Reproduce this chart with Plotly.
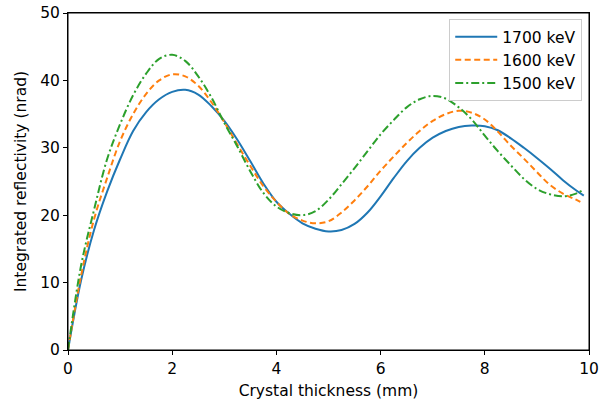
import plotly.graph_objects as go

# crystal thickness (mm)
thickness = [0, 0.25, 0.5, 0.75, 1.0, 1.25, 1.5, 1.75, 2.0, 2.25, 2.5, 2.75, 3.0, 3.25, 3.5, 3.75,
             4.0, 4.25, 4.5, 4.75, 5.0, 5.25, 5.5, 5.75, 6.0, 6.25, 6.5, 6.75, 7.0, 7.25, 7.5, 7.75,
             8.0, 8.25, 8.5, 8.75, 9.0, 9.25, 9.5, 9.75, 9.9]

# integrated reflectivity (nrad)
refl_1700 = [0, 10.3, 17.8, 23.5, 28.3, 32.5, 35.3, 37.2, 38.3, 38.6, 37.9, 36.2, 34.0, 31.2, 28.0, 24.7,
             22.0, 20.2, 18.8, 18.0, 17.6, 17.8, 18.7, 20.4, 22.8, 25.5, 28.0, 30.0, 31.5, 32.5, 33.1, 33.3,
             33.2, 32.6, 31.4, 30.0, 28.5, 26.9, 25.2, 23.7, 22.9]
refl_1600 = [0, 11.0, 19.4, 25.5, 31.0, 35.0, 38.0, 40.0, 40.9, 40.6, 39.2, 36.8, 33.8, 30.5, 27.3, 24.3,
             22.0, 20.2, 19.2, 18.8, 19.1, 20.4, 22.2, 24.3, 26.6, 28.7, 30.7, 32.5, 34.0, 35.0, 35.5, 35.2,
             34.2, 32.4, 30.3, 28.4, 26.4, 24.5, 23.2, 22.3, 21.7]
refl_1500 = [0, 12.5, 20.8, 28.3, 33.5, 37.8, 41.0, 43.2, 43.8, 42.9, 40.6, 37.5, 33.7, 30.2, 26.5, 23.3,
             21.3, 20.3, 20.0, 20.6, 22.3, 24.6, 27.0, 29.5, 32.0, 34.1, 36.0, 37.2, 37.7, 37.3, 36.0, 34.2,
             31.8, 29.5, 27.4, 25.4, 23.9, 23.1, 22.8, 23.2, 23.8]

series = [
    ("1700 keV", refl_1700, "#1f77b4", "solid"),
    ("1600 keV", refl_1600, "#ff7f0e", "6px,3.5px"),
    ("1500 keV", refl_1500, "#2ca02c", "8px,3px,2px,3px"),
]

FS = 15.5

fig = go.Figure()
for name, vals, color, dash in series:
    fig.add_trace(go.Scatter(x=thickness, y=vals, mode="lines", name=name,
                             line=dict(color=color, width=2, dash=dash, shape="spline", smoothing=1.0)))

axis_style = dict(showline=True, linecolor="black", linewidth=1, mirror="allticks",
                  ticks="outside", ticklen=4, tickcolor="black", showgrid=False, zeroline=False,
                  tickfont=dict(size=FS, color="black"))

fig.update_xaxes(range=[0, 10], tickvals=[0, 2, 4, 6, 8, 10], automargin=False,
                 title=dict(text="Crystal thickness (mm)", font=dict(size=FS, color="black")),
                 **axis_style)
fig.update_yaxes(range=[0, 50], tickvals=[0, 10, 20, 30, 40, 50], automargin="left",
                 title=dict(text="Integrated reflectivity (nrad)", font=dict(size=FS, color="black"), standoff=9),
                 **axis_style)
# matplotlib style: no ticks on the top/right spines, only the lines
fig.update_xaxes(mirror=True)
fig.update_yaxes(mirror=True)

# frame round the plot area (top and right spines)
fig.add_shape(type="rect", xref="paper", yref="paper", x0=0, y0=0, x1=1, y1=1,
              line=dict(color="black", width=1), layer="above")

fig.update_layout(
    width=606, height=400,
    margin=dict(l=68, r=17, t=13, b=50),
    plot_bgcolor="white", paper_bgcolor="white",
    font=dict(family="DejaVu Sans", size=FS, color="black"),
    legend=dict(x=0.987, y=0.982, xanchor="right", yanchor="top", itemwidth=42,
                bgcolor="rgba(255,255,255,0.8)", bordercolor="#cccccc", borderwidth=1,
                font=dict(size=FS)),
)

# drop the default page margin so the figure sits at the window corner
fig.write_html("out.html", config={"displayModeBar": False},
               post_script="document.body.style.margin='0'; document.body.style.overflow='hidden';")
